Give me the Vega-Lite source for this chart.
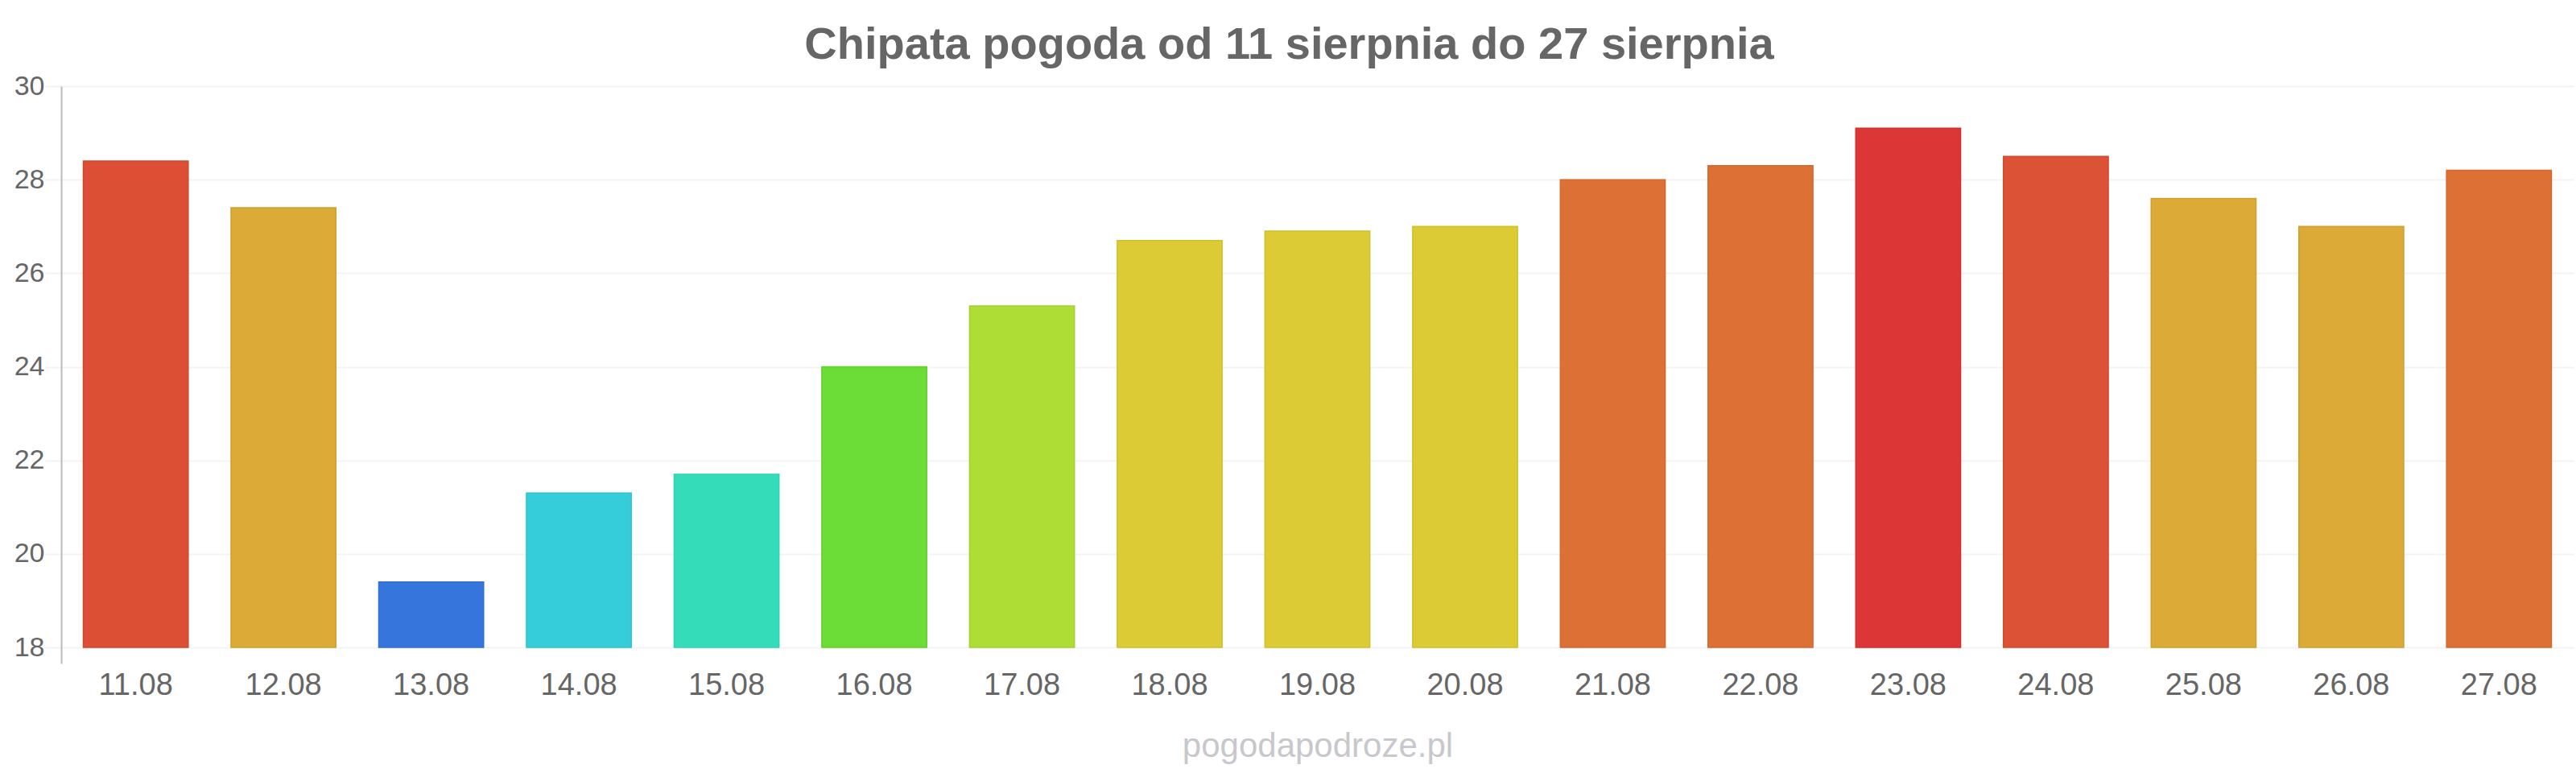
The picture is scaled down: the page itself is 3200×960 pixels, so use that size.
{
  "$schema": "https://vega.github.io/schema/vega-lite/v6.json",
  "autosize": {"type": "none"},
  "width": 3121,
  "height": 717,
  "padding": {"left": 76, "top": 107, "right": 3, "bottom": 136},
  "background": "white",
  "config": {
    "view": {"stroke": null},
    "font": "Liberation Sans"
  },
  "title": {
    "text": "Chipata pogoda od 11 sierpnia do 27 sierpnia",
    "font": "Liberation Sans",
    "fontSize": 56,
    "fontWeight": "bold",
    "color": "#666666",
    "anchor": "middle",
    "baseline": "alphabetic",
    "dx": -35,
    "dy": 59,
    "offset": 20
  },
  "data": {
    "values": [
      {"date": "11.08", "temp": 28.4},
      {"date": "12.08", "temp": 27.4},
      {"date": "13.08", "temp": 19.4},
      {"date": "14.08", "temp": 21.3},
      {"date": "15.08", "temp": 21.7},
      {"date": "16.08", "temp": 24.0},
      {"date": "17.08", "temp": 25.3},
      {"date": "18.08", "temp": 26.7},
      {"date": "19.08", "temp": 26.9},
      {"date": "20.08", "temp": 27.0},
      {"date": "21.08", "temp": 28.0},
      {"date": "22.08", "temp": 28.3},
      {"date": "23.08", "temp": 29.1},
      {"date": "24.08", "temp": 28.5},
      {"date": "25.08", "temp": 27.6},
      {"date": "26.08", "temp": 27.0},
      {"date": "27.08", "temp": 28.2}
    ]
  },
  "mark": {"type": "bar", "strokeWidth": 1.5},
  "encoding": {
    "x": {
      "field": "date",
      "type": "nominal",
      "sort": null,
      "scale": {"paddingInner": 0.29, "paddingOuter": 0.15},
      "axis": {
        "title": "pogodapodroze.pl",
        "titleFont": "Liberation Sans",
        "titleFontSize": 42,
        "titleFontWeight": "normal",
        "titleColor": "#c8c8cc",
        "titlePadding": 36,
        "labelAngle": 0,
        "labelFontSize": 38,
        "labelColor": "#666666",
        "labelPadding": 8,
        "ticks": false,
        "domain": false,
        "grid": false
      }
    },
    "y": {
      "field": "temp",
      "type": "quantitative",
      "scale": {"domain": [17.656, 30], "nice": false, "zero": false},
      "axis": {
        "title": null,
        "values": [18, 20, 22, 24, 26, 28, 30],
        "labelFontSize": 34,
        "labelColor": "#666666",
        "labelPadding": 1,
        "tickSize": 20,
        "tickColor": "#f2f2f2",
        "tickWidth": 2,
        "gridColor": "#f3f3f3",
        "gridWidth": 2,
        "domainColor": "#bbbbbb",
        "domainWidth": 2
      }
    },
    "y2": {"datum": 18},
    "fill": {
      "field": "date",
      "type": "nominal",
      "legend": null,
      "scale": {
        "domain": ["11.08", "12.08", "13.08", "14.08", "15.08", "16.08", "17.08", "18.08", "19.08", "20.08", "21.08", "22.08", "23.08", "24.08", "25.08", "26.08", "27.08"],
        "range": ["#dc4f35", "#dcaa36", "#3676dc", "#35cdd9", "#35dcb9", "#6cdd36", "#aedd35", "#dccb35", "#dccb35", "#dccb35", "#dd7035", "#dd7035", "#dc3636", "#dc5236", "#dcaa36", "#dcaa36", "#dd7035"]
      }
    },
    "stroke": {
      "field": "date",
      "type": "nominal",
      "legend": null,
      "scale": {
        "domain": ["11.08", "12.08", "13.08", "14.08", "15.08", "16.08", "17.08", "18.08", "19.08", "20.08", "21.08", "22.08", "23.08", "24.08", "25.08", "26.08", "27.08"],
        "range": ["#d4462b", "#d0a02c", "#2f6fd6", "#2ec4d0", "#2ed3b0", "#62d02c", "#a3d02c", "#cfbf2c", "#cfbf2c", "#cfbf2c", "#d4672c", "#d4672c", "#d12e2e", "#d4492d", "#d0a02c", "#d0a02c", "#d4672c"]
      }
    }
  }
}
